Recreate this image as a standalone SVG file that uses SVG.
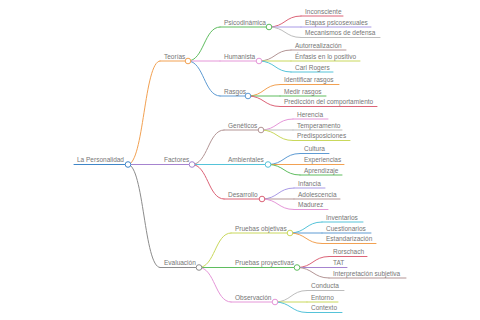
<svg xmlns="http://www.w3.org/2000/svg" width="480" height="320" viewBox="0 0 480 320">
<style>
path{fill:none;stroke-width:1;stroke-linecap:round}
circle{fill:#fff;stroke-width:1}
text{font-family:"Liberation Sans",Arial,sans-serif;font-size:6.5px;fill:#767676}
.o{stroke:#f2a152}.p{stroke:#a684cf}.g{stroke:#8c8c8c}.b{stroke:#5e9bd3}.gr{stroke:#5fbd5f}
.pk{stroke:#e596d8}.m{stroke:#b39595}.c{stroke:#55c3d9}.r{stroke:#dc6377}.y{stroke:#c9d85c}
.lv{stroke:#a99ae6}.lg{stroke:#bdbdbd}.rt{stroke:#3f86c8}
</style>
<rect width="480" height="320" fill="#fff"/>
<g id="connectors">
<path class="o" d="M128 164.5C144 164.5 144 61 160 61"/>
<path class="p" d="M128 164.5H160"/>
<path class="g" d="M128 164.5C144 164.5 144 267.5 160 267.5"/>
<path class="gr" d="M188 61C204 61 204 27 220 27"/>
<path class="pk" d="M188 61H220"/>
<path class="b" d="M188 61C204 61 204 96 220 96"/>
<path class="m" d="M192 164.5C208 164.5 208 130 224 130"/>
<path class="c" d="M192 164.5H224"/>
<path class="r" d="M192 164.5C208 164.5 208 199 224 199"/>
<path class="y" d="M199 267.5C215 267.5 215 233 231 233"/>
<path class="gr" d="M199 267.5H231"/>
<path class="pk" d="M199 267.5C215 267.5 215 302 231 302"/>
<path class="r" d="M269 27C285 27 285 16 301 16"/>
<path class="lv" d="M269 27H301"/>
<path class="lg" d="M269 27C285 27 285 37.5 301 37.5"/>
<path class="m" d="M259 61C275 61 275 50 291 50"/>
<path class="y" d="M259 61H291"/>
<path class="c" d="M259 61C275 61 275 72 291 72"/>
<path class="o" d="M248 96C264 96 264 84.5 280 84.5"/>
<path class="gr" d="M248 96H280"/>
<path class="r" d="M248 96C264 96 264 106.5 280 106.5"/>
<path class="pk" d="M261 130C277 130 277 119 293 119"/>
<path class="lg" d="M261 130H293"/>
<path class="y" d="M261 130C277 130 277 140.5 293 140.5"/>
<path class="b" d="M268 164.5C284 164.5 284 153.5 300 153.5"/>
<path class="o" d="M268 164.5H300"/>
<path class="gr" d="M268 164.5C284 164.5 284 175 300 175"/>
<path class="lv" d="M262 199C278 199 278 188 294 188"/>
<path class="m" d="M262 199H294"/>
<path class="pk" d="M262 199C278 199 278 209.5 294 209.5"/>
<path class="c" d="M290 233C306 233 306 222 322 222"/>
<path class="b" d="M290 233H322"/>
<path class="o" d="M290 233C306 233 306 243.5 322 243.5"/>
<path class="r" d="M297 267.5C313 267.5 313 256.5 329 256.5"/>
<path class="p" d="M297 267.5H329"/>
<path class="m" d="M297 267.5C313 267.5 313 278 329 278"/>
<path class="lg" d="M275 302C291 302 291 290.5 307 290.5"/>
<path class="y" d="M275 302H307"/>
<path class="c" d="M275 302C291 302 291 312.5 307 312.5"/>
</g>
<g id="n-root"><path class="rt" d="M74 164.5H128"/><text x="77" y="162">La Personalidad</text></g>
<g id="n-teorias"><path class="o" d="M160 61H188"/><text x="164" y="58.7">Teorías</text></g>
<g id="n-factores"><path class="p" d="M160 164.5H192"/><text x="164" y="162.2">Factores</text></g>
<g id="n-evaluacion"><path class="g" d="M160 267.5H199"/><text x="164" y="265.2">Evaluación</text></g>
<g id="n-psicodinamica"><path class="gr" d="M220 27H269"/><text x="224" y="24.7">Psicodinámica</text></g>
<g id="n-humanista"><path class="pk" d="M220 61H259"/><text x="224" y="58.7">Humanista</text></g>
<g id="n-rasgos"><path class="b" d="M220 96H248"/><text x="224" y="93.7">Rasgos</text></g>
<g id="n-geneticos"><path class="m" d="M224 130H261"/><text x="228" y="127.7">Genéticos</text></g>
<g id="n-ambientales"><path class="c" d="M224 164.5H268"/><text x="228" y="162.2">Ambientales</text></g>
<g id="n-desarrollo"><path class="r" d="M224 199H262"/><text x="228" y="196.7">Desarrollo</text></g>
<g id="n-pobjetivas"><path class="y" d="M231 233H290"/><text x="235" y="230.7">Pruebas objetivas</text></g>
<g id="n-pproyectivas"><path class="gr" d="M231 267.5H297"/><text x="235" y="265.2">Pruebas proyectivas</text></g>
<g id="n-observacion"><path class="pk" d="M231 302H275"/><text x="235" y="299.7">Observación</text></g>
<g id="n-inconsciente"><path class="r" d="M301 16H343"/><text x="305" y="13.7">Inconsciente</text></g>
<g id="n-etapas"><path class="lv" d="M301 27H371"/><text x="305" y="24.7">Etapas psicosexuales</text></g>
<g id="n-mecanismos"><path class="lg" d="M301 37.5H380"/><text x="305" y="35.2">Mecanismos de defensa</text></g>
<g id="n-autorrealizacion"><path class="m" d="M291 50H346"/><text x="295" y="47.7">Autorrealización</text></g>
<g id="n-enfasis"><path class="y" d="M291 61H360"/><text x="295" y="58.7">Énfasis en lo positivo</text></g>
<g id="n-carlrogers"><path class="c" d="M291 72H333"/><text x="295" y="69.7">Carl Rogers</text></g>
<g id="n-identificar"><path class="o" d="M280 84.5H339"/><text x="284" y="82.2">Identificar rasgos</text></g>
<g id="n-medir"><path class="gr" d="M280 96H326"/><text x="284" y="93.7">Medir rasgos</text></g>
<g id="n-prediccion"><path class="r" d="M280 106.5H377"/><text x="284" y="104.2">Predicción del comportamiento</text></g>
<g id="n-herencia"><path class="pk" d="M293 119H328"/><text x="297" y="116.7">Herencia</text></g>
<g id="n-temperamento"><path class="lg" d="M293 130H342"/><text x="297" y="127.7">Temperamento</text></g>
<g id="n-predisposiciones"><path class="y" d="M293 140.5H350"/><text x="297" y="138.2">Predisposiciones</text></g>
<g id="n-cultura"><path class="b" d="M300 153.5H329"/><text x="304" y="151.2">Cultura</text></g>
<g id="n-experiencias"><path class="o" d="M300 164.5H344"/><text x="304" y="162.2">Experiencias</text></g>
<g id="n-aprendizaje"><path class="gr" d="M300 175H342"/><text x="304" y="172.7">Aprendizaje</text></g>
<g id="n-infancia"><path class="lv" d="M294 188H325"/><text x="298" y="185.7">Infancia</text></g>
<g id="n-adolescencia"><path class="m" d="M294 199H340"/><text x="298" y="196.7">Adolescencia</text></g>
<g id="n-madurez"><path class="pk" d="M294 209.5H328"/><text x="298" y="207.2">Madurez</text></g>
<g id="n-inventarios"><path class="c" d="M322 222H363"/><text x="326" y="219.7">Inventarios</text></g>
<g id="n-cuestionarios"><path class="b" d="M322 233H371"/><text x="326" y="230.7">Cuestionarios</text></g>
<g id="n-estandarizacion"><path class="o" d="M322 243.5H376"/><text x="326" y="241.2">Estandarización</text></g>
<g id="n-rorschach"><path class="r" d="M329 256.5H367"/><text x="333" y="254.2">Rorschach</text></g>
<g id="n-tat"><path class="p" d="M329 267.5H347"/><text x="333" y="265.2">TAT</text></g>
<g id="n-interpretacion"><path class="m" d="M329 278H406"/><text x="333" y="275.7">Interpretación subjetiva</text></g>
<g id="n-conducta"><path class="lg" d="M307 290.5H344"/><text x="311" y="288.2">Conducta</text></g>
<g id="n-entorno"><path class="y" d="M307 302H338"/><text x="311" y="299.7">Entorno</text></g>
<g id="n-contexto"><path class="c" d="M307 312.5H342"/><text x="311" y="310.2">Contexto</text></g>
<g id="circles">
<circle class="rt" cx="128" cy="164.5" r="2.8"/>
<circle class="o" cx="188" cy="61" r="2.8"/>
<circle class="p" cx="192" cy="164.5" r="2.8"/>
<circle class="g" cx="199" cy="267.5" r="2.8"/>
<circle class="gr" cx="269" cy="27" r="2.8"/>
<circle class="pk" cx="259" cy="61" r="2.8"/>
<circle class="b" cx="248" cy="96" r="2.8"/>
<circle class="m" cx="261" cy="130" r="2.8"/>
<circle class="c" cx="268" cy="164.5" r="2.8"/>
<circle class="r" cx="262" cy="199" r="2.8"/>
<circle class="y" cx="290" cy="233" r="2.8"/>
<circle class="gr" cx="297" cy="267.5" r="2.8"/>
<circle class="pk" cx="275" cy="302" r="2.8"/>
</g>
</svg>
